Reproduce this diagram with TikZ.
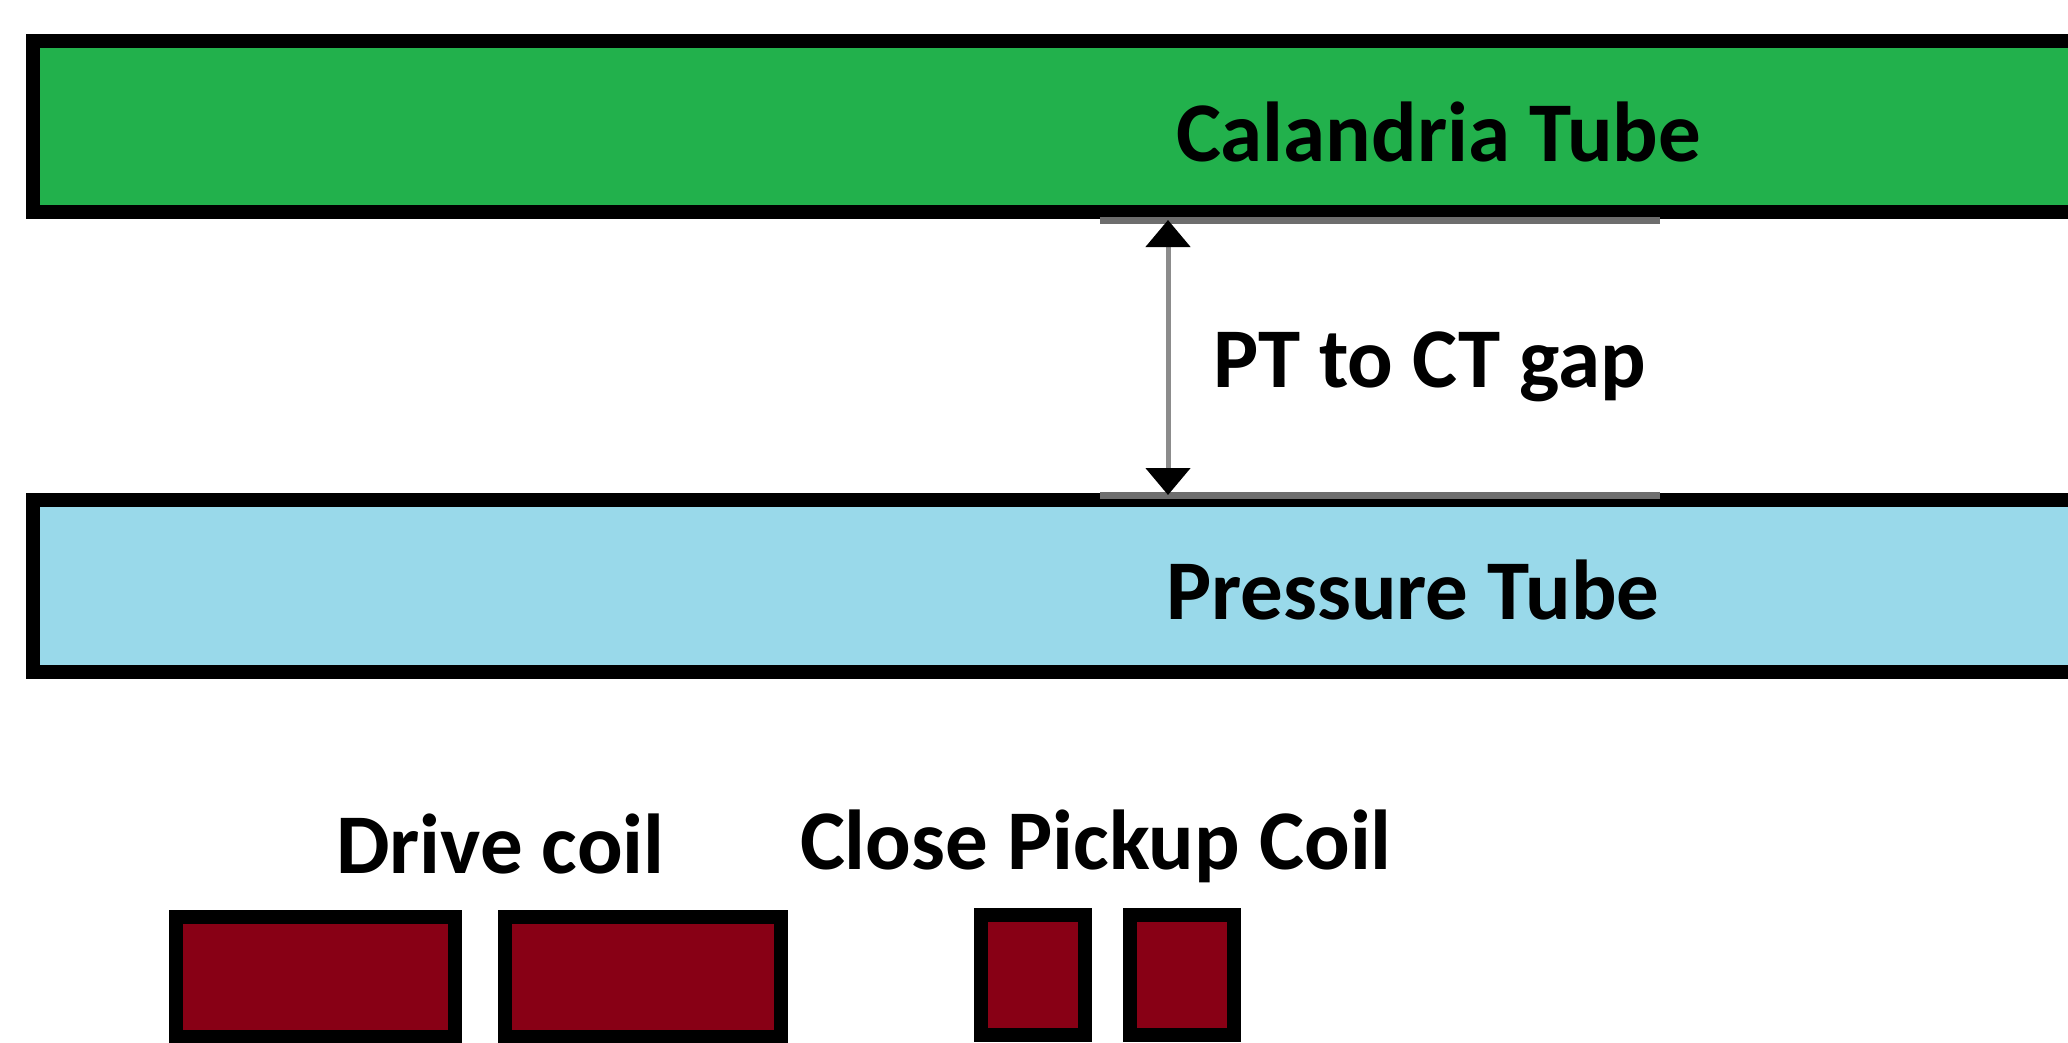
\documentclass[tikz,border=0pt]{standalone}
\usepackage{fontspec}
\setmainfont{Carlito}
\usetikzlibrary{arrows.meta}

\definecolor{ctgreen}{HTML}{22B14C}
\definecolor{ptblue}{HTML}{99D9EA}
\definecolor{coilred}{HTML}{880015}
\definecolor{gapgray}{HTML}{6E6E6E}
\definecolor{shaftgray}{HTML}{8C8C8C}

\tikzset{
  tube/.style={draw=black, line width=14pt, rectangle, inner sep=0pt, outer sep=0pt},
  coil/.style={draw=black, line width=14pt, fill=coilred, rectangle, inner sep=0pt, outer sep=0pt},
  lbl/.style={anchor=base west, inner sep=0pt, outer sep=0pt,
              font=\fontsize{85}{100}\selectfont\bfseries},
  gapline/.style={draw=gapgray, line width=7pt},
  gaparrow/.style={draw=shaftgray, line width=5pt,
                   {Triangle[length=27pt, width=44pt, color=black]}-{Triangle[length=27pt, width=44pt, color=black]}}
}

\begin{document}
\begin{tikzpicture}[x=1pt, y=-1pt]
  \useasboundingbox (0,0) rectangle (2068,1043);
  \clip (0,0) rectangle (2068,1043);
  \fill[white] (0,0) rectangle (2068,1043);

  % tubes (they run off the right edge)
  \node[tube, fill=ctgreen, minimum width=2067pt, minimum height=171pt] (ct) at (1066.5,126.5) {};
  \node[tube, fill=ptblue,  minimum width=2067pt, minimum height=172pt] (pt) at (1066.5,586) {};

  % gap markers
  \coordinate (gtl) at (1100,220);
  \coordinate (gtr) at (1660,220);
  \coordinate (gbl) at (1100,495);
  \coordinate (gbr) at (1660,495);
  \coordinate (gtop) at (1168,220);
  \coordinate (gbot) at (1168,495);
  \draw[gapline] (gtl) -- (gtr);
  \draw[gapline] (gbl) -- (gbr);
  \draw[gaparrow] (gtop) -- (gbot);

  % labels
  \node[lbl] (ctlabel) at (1176,162) {Calandria Tube};
  \node[lbl] (gaplabel) at (1213,387) {PT to CT gap};
  \node[lbl] (ptlabel) at (1166,619) {Pressure Tube};
  \node[lbl] (drivelabel) at (336,873) {Drive coil};
  \node[lbl] (pickuplabel) at (800,869) {Close Pickup Coil};

  % coils
  \node[coil, minimum width=279pt, minimum height=120pt] (drive1) at (315.5,977) {};
  \node[coil, minimum width=276pt, minimum height=120pt] (drive2) at (643,977) {};
  \node[coil, minimum width=104pt, minimum height=120pt] (pick1) at (1033,975) {};
  \node[coil, minimum width=104pt, minimum height=120pt] (pick2) at (1182,975) {};
\end{tikzpicture}
\end{document}
